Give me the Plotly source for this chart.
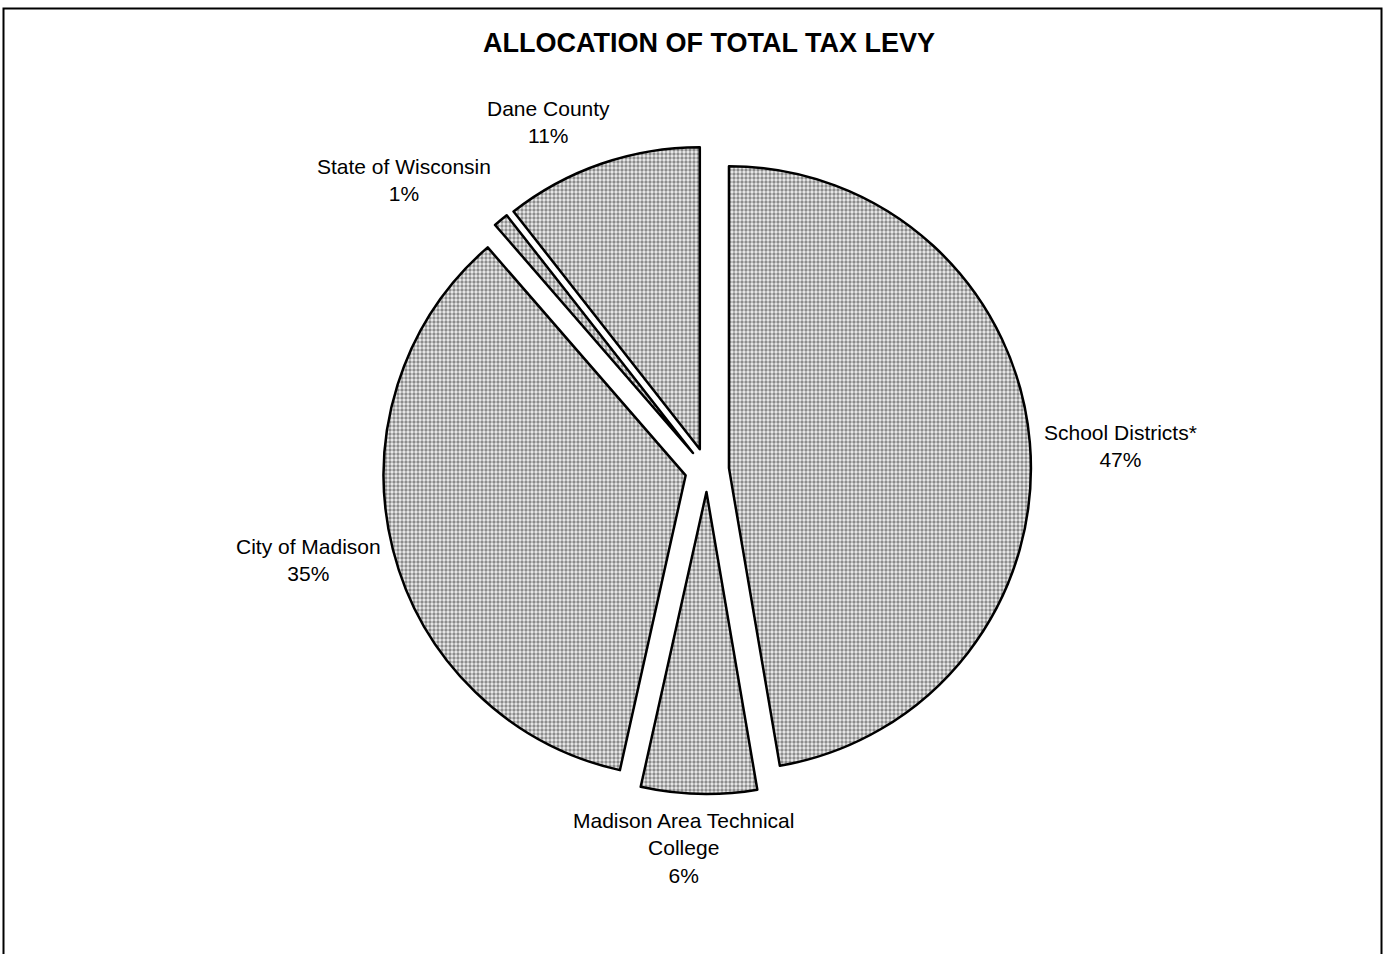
import plotly.graph_objects as go

categories = ["School Districts*", "Madison Area Technical College", "City of Madison",
              "State of Wisconsin", "Dane County"]
display_labels = ["School Districts*", "Madison Area Technical<br>College", "City of Madison",
                  "State of Wisconsin", "Dane County"]
shares = [47.4, 6.2, 35.2, 0.8, 10.6]   # percent of total levy

W, H = 1384, 954
cx, cy = 707, 470      # pie centre in px (from top)
half = 324             # half-size of pie domain incl. pull

# label centres in px (layout only)
label_px = [(1120, 446), (683, 848), (308, 560), (404, 180), (548, 122)]

total = sum(shares)
pct_text = [f"{round(v / total * 100):.0f}%" for v in shares]

fig = go.Figure(go.Pie(
    labels=categories,
    values=shares,
    textinfo="none",
    sort=False,
    direction="clockwise",
    rotation=0,
    pull=[0.073] * len(shares),
    showlegend=False,
    hoverinfo="label+percent",
    marker=dict(
        colors=["white"] * len(shares),
        line=dict(color="black", width=2.5),
        pattern=dict(shape=".", fgcolor="#2a2a2a", bgcolor="#eeeeee",
                     size=4, solidity=0.55, fillmode="overlay"),
    ),
    domain=dict(x=[(cx - half) / W, (cx + half) / W],
                y=[(H - cy - half) / H, (H - cy + half) / H]),
))

annotations = []
for lab, pct, (px, py) in zip(display_labels, pct_text, label_px):
    annotations.append(dict(
        text=f"{lab}<br>{pct}", xref="paper", yref="paper",
        x=px / W, y=1 - py / H, xanchor="center", yanchor="middle",
        showarrow=False, align="center",
        font=dict(family="Liberation Sans, Arial, sans-serif", size=21, color="black"),
    ))

fig.update_layout(
    width=W, height=H,
    margin=dict(l=0, r=0, t=0, b=0),
    paper_bgcolor="white",
    title=dict(text="<b>ALLOCATION OF TOTAL TAX LEVY</b>",
               x=709 / W, xanchor="center", y=1 - 43 / H, yanchor="middle",
               font=dict(family="Liberation Sans, Arial, sans-serif", size=27, color="black")),
    annotations=annotations,
    shapes=[dict(type="rect", xref="paper", yref="paper",
                 x0=3.5 / W, x1=1381.5 / W, y0=-0.05, y1=1 - 8.5 / H,
                 line=dict(color="black", width=2))],
)

fig.write_html("out.html")
